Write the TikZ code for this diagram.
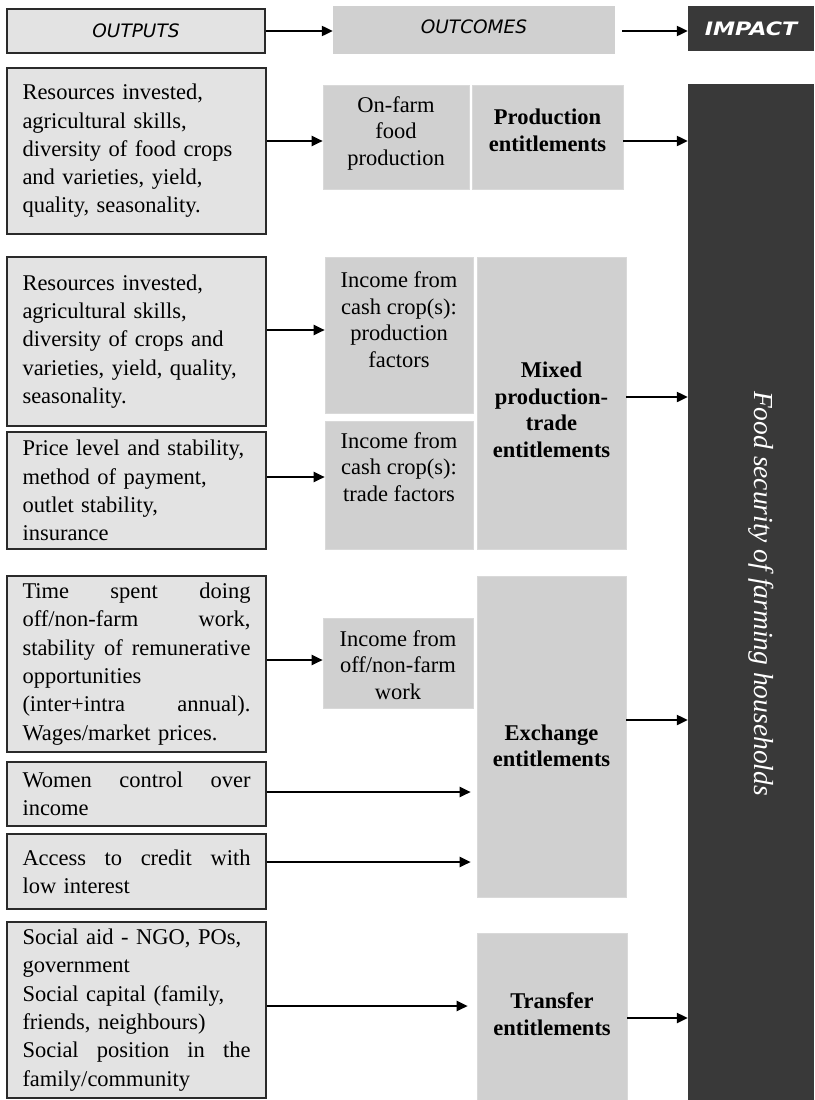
\documentclass[tikz,border=0pt]{standalone}
\usepackage{fontspec}
\setmainfont{Liberation Serif}
\newfontfamily\hdrfont{DejaVu Sans}
\usetikzlibrary{arrows.meta}
\definecolor{inboxc}{HTML}{E3E3E3}
\definecolor{midboxc}{HTML}{D0D0D0}
\definecolor{darkboxc}{HTML}{393939}
\definecolor{edgec}{HTML}{2A2A2A}
\newcommand\jline[1]{\makebox[228pt][s]{\spaceskip=0pt\xspaceskip=0pt #1}}
\tikzset{
  inbox/.style={draw=edgec, line width=1.4pt, fill=inboxc, inner xsep=0pt, inner ysep=0pt,
    minimum width=259pt, text width=228pt, align=left,
    font=\fontsize{22.5}{28.3}\selectfont},
  midbox/.style={fill=midboxc, draw=midboxc!80!white, line width=0.6pt, inner sep=0pt},
  darkbox/.style={fill=darkboxc, draw=none, inner sep=0pt},
  midtxt/.style={align=center, inner sep=0pt, font=\fontsize{22.5}{26.5}\selectfont},
  boldtxt/.style={align=center, inner sep=0pt, font=\fontsize{22.5}{26.5}\selectfont\bfseries},
  arr/.style={line width=2.2pt, -{Triangle[length=11pt,width=10pt]}},
  hdrtxt/.style={font=\hdrfont\fontsize{18.5}{20}\selectfont\itshape}
}
\begin{document}
\begin{tikzpicture}[x=1pt,y=-1pt]
\useasboundingbox (0,0) rectangle (814,1100);
% header
\node[draw=edgec, line width=1.4pt, fill=inboxc, minimum width=258pt, minimum height=44pt, inner sep=0pt, hdrtxt] (hOut) at (136,31) {OUTPUTS};
\node[fill=midboxc, minimum width=282pt, minimum height=48pt, inner sep=0pt] (hOc) at (474,30) {};
\node[hdrtxt, inner sep=0pt] (hOcT) at (474,27) {OUTCOMES};
\node[darkbox, minimum width=126pt, minimum height=45pt, text=white, font=\hdrfont\fontsize{18.5}{20}\selectfont\bfseries\itshape] (hImp) at (751,28.5) {\scalebox{1.2}[1]{IMPACT}};
\coordinate (y0) at (0,31);
\draw[arr] (hOut.east |- y0) -- (hOc.west |- y0);
\draw[arr] ([xshift=7pt]hOc.east |- y0) -- (hImp.west |- y0);

% impact column
\node[darkbox, minimum width=126pt, minimum height=1016pt] (imp) at (751,592) {};
\node[rotate=-90, text=white, inner sep=0pt, font=\fontsize{27.5}{30}\selectfont\itshape] (impT) at (761,593.5) {Food security of farming households};

% left input boxes
\node[inbox, minimum height=166pt] (b1) at (136.5,151) {Resources invested,\\agricultural skills,\\diversity of food crops\\and varieties, yield,\\quality, seasonality.};
\node[inbox, minimum height=169pt] (b2) at (136.5,341.5) {Resources invested,\\agricultural skills,\\diversity of crops and\\varieties, yield, quality,\\seasonality.};
\node[inbox, minimum height=117pt] (b3) at (136.5,490.5) {Price level and stability,\\method of payment,\\outlet stability,\\insurance};
\node[inbox, minimum height=176pt] (b4) at (136.5,664) {\jline{Time spent doing}\\\jline{off/non-farm work,}\\\jline{stability of remunerative}\\opportunities\\\jline{(inter+intra annual).}\\Wages/market prices.};
\node[inbox, minimum height=64pt] (b5) at (136.5,794) {\jline{Women control over}\\income};
\node[inbox, minimum height=75pt] (b6) at (136.5,871.5) {\jline{Access to credit with}\\low interest};
\node[inbox, minimum height=176pt] (b7) at (136.5,1010) {Social aid - NGO, POs,\\government\\Social capital (family,\\friends, neighbours)\\\jline{Social position in the}\\family/community};

% outcome boxes
\node[midbox, minimum width=146pt, minimum height=104pt] (o1) at (396,137) {};
\node[midtxt] (o1t) at (396,133) {On-farm\\food\\production};
\node[midbox, minimum width=151pt, minimum height=104pt] (p1) at (547.5,137) {};
\node[boldtxt] (p1t) at (547.5,130.5) {Production\\entitlements};
\node[midbox, minimum width=148pt, minimum height=156pt] (o2) at (399,335) {};
\node[midtxt] (o2t) at (399,319.5) {Income from\\cash crop(s):\\production\\factors};
\node[midbox, minimum width=148pt, minimum height=128pt] (o3) at (399,485) {};
\node[midtxt] (o3t) at (399,467) {Income from\\cash crop(s):\\trade factors};
\node[midbox, minimum width=149pt, minimum height=292pt] (mx) at (551.5,403) {};
\node[boldtxt] (mxt) at (551.5,410) {Mixed\\production-\\trade\\entitlements};
\node[midbox, minimum width=150pt, minimum height=90pt] (o4) at (398,663) {};
\node[midtxt] (o4t) at (398,665) {Income from\\off/non-farm\\work};
\node[midbox, minimum width=149pt, minimum height=321pt] (ex) at (551.5,736.5) {};
\node[boldtxt] (ext) at (551.5,746) {Exchange\\entitlements};
\node[midbox, minimum width=150pt, minimum height=167pt] (tr) at (552,1016.5) {};
\node[boldtxt] (trt) at (552,1014) {Transfer\\entitlements};

% arrow levels
\coordinate (y1) at (0,141);
\coordinate (y2) at (0,330);
\coordinate (y3) at (0,477);
\coordinate (y4) at (0,397);
\coordinate (y5) at (0,660);
\coordinate (y6) at (0,720);
\coordinate (y7) at (0,792);
\coordinate (y8) at (0,862);
\coordinate (y9) at (0,1006);
\coordinate (y10) at (0,1018);

\draw[arr] (b1.east |- y1) -- (o1.west |- y1);
\draw[arr] (p1.east |- y1) -- (imp.west |- y1);
\draw[arr] (b2.east |- y2) -- (o2.west |- y2);
\draw[arr] (b3.east |- y3) -- (o3.west |- y3);
\draw[arr] (mx.east |- y4) -- (imp.west |- y4);
\draw[arr] (b4.east |- y5) -- (o4.west |- y5);
\draw[arr] (ex.east |- y6) -- (imp.west |- y6);
\draw[arr] (b5.east |- y7) -- ([xshift=-6pt]ex.west |- y7);
\draw[arr] (b6.east |- y8) -- ([xshift=-6pt]ex.west |- y8);
\draw[arr] (b7.east |- y9) -- ([xshift=-9pt]tr.west |- y9);
\draw[arr] (tr.east |- y10) -- (imp.west |- y10);
\end{tikzpicture}
\end{document}
